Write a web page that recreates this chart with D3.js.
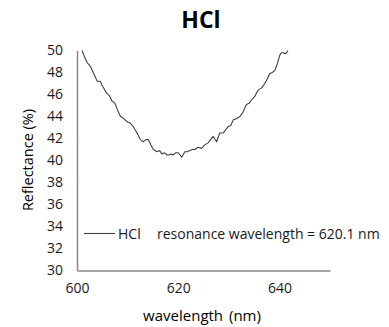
<!DOCTYPE html>
<html>
<head>
<meta charset="utf-8">
<script src="https://cdn.jsdelivr.net/npm/d3@7"></script>
<style>
  body { margin: 0; background: #fff; }
  svg { font-family: "Open Sans", sans-serif; }
</style>
</head>
<body>
<svg id="chart" width="389" height="327"></svg>
<script>
// wavelength (nm) and reflectance (%)
const wavelength = [601.0, 601.5, 602.0, 602.4, 602.7, 603.0, 603.4, 604.0, 604.6, 605.0, 605.5, 605.9,
  606.4, 606.9, 607.3, 607.6, 608.0, 608.6, 609.0, 609.5, 610.0, 610.5, 611.1, 611.6, 612.0, 612.5,
  613.1, 613.6, 614.1, 614.6, 615.1, 615.8, 616.3, 616.8, 617.3, 617.8, 618.1, 618.6, 619.0, 619.5,
  620.0, 620.4, 620.7, 621.3, 621.8, 622.3, 622.8, 623.3, 623.9, 624.6, 625.2, 625.9, 626.4, 626.9,
  627.6, 628.2, 628.9, 629.4, 629.9, 630.4, 630.9, 631.5, 632.2, 632.8, 633.5, 634.0, 634.5, 635.1,
  635.8, 636.5, 637.1, 637.6, 638.1, 638.6, 639.1, 639.6, 640.1, 640.4, 640.8, 641.1, 641.4, 641.7];
const reflectance = [50.0, 49.4, 48.9, 48.7, 48.5, 48.2, 47.8, 47.2, 47.2, 46.8, 46.4, 46.1,
  45.9, 45.4, 45.3, 45.1, 44.6, 44.0, 43.9, 43.7, 43.5, 43.4, 43.1, 42.7, 42.4, 41.9,
  41.7, 41.9, 41.9, 41.4, 41.0, 40.8, 40.9, 40.6, 40.7, 40.5, 40.5, 40.6, 40.5, 40.7,
  40.7, 40.5, 40.3, 40.8, 40.8, 40.9, 41.0, 41.0, 41.2, 41.1, 41.4, 41.6, 41.9, 42.2,
  41.7, 42.5, 42.5, 42.8, 43.1, 43.2, 43.7, 43.8, 44.0, 44.4, 45.1, 45.2, 45.5, 45.8,
  46.4, 46.6, 47.0, 47.4, 47.9, 48.0, 48.2, 48.8, 49.6, 49.8, 49.8, 49.7, 49.8, 50.0];

const xTicks = [600, 620, 640];
const yTicks = [30, 32, 34, 36, 38, 40, 42, 44, 46, 48, 50];
const seriesName = "HCl";
const note = "resonance wavelength = 620.1 nm";

const data = wavelength.map((w, i) => ({ w, r: reflectance[i] }));

const svg = d3.select("#chart");
const x = d3.scaleLinear().domain([600, 650]).range([77, 330]);
const y = d3.scaleLinear().domain([30, 50]).range([270.5, 50.5]);
const axisColor = "#868686";

// title
svg.append("text")
  .attr("x", 201).attr("y", 28)
  .attr("text-anchor", "middle")
  .attr("font-size", 23).attr("font-weight", "bold")
  .attr("fill", "#000")
  .text(seriesName);

// axes: plain lines, no tick marks
const xAxis = svg.append("g")
  .attr("transform", `translate(0,${y(30)})`)
  .call(d3.axisBottom(x).tickValues(xTicks).tickSize(0).tickPadding(13));
const yAxis = svg.append("g")
  .attr("transform", `translate(${x(600)},0)`)
  .call(d3.axisLeft(y).tickValues(yTicks).tickSize(0).tickPadding(14));

[xAxis, yAxis].forEach(g => {
  g.select(".domain").attr("stroke", axisColor).attr("stroke-width", 1.5);
  g.selectAll("text")
    .attr("font-family", "Open Sans, sans-serif")
    .attr("font-size", 14)
    .attr("fill", "#1a1a1a");
});

// axis titles
svg.append("text")
  .attr("x", 202).attr("y", 321)
  .attr("text-anchor", "middle")
  .attr("font-size", 15).attr("fill", "#000")
  .attr("word-spacing", 2)
  .text("wavelength (nm)");
svg.append("text")
  .attr("transform", "translate(33,160) rotate(-90)")
  .attr("text-anchor", "middle")
  .attr("font-size", 14.5).attr("fill", "#000")
  .text("Reflectance (%)");

// curve
const line = d3.line().x(d => x(d.w)).y(d => y(d.r));
svg.append("path")
  .datum(data)
  .attr("d", line)
  .attr("fill", "none")
  .attr("stroke", "#404040")
  .attr("stroke-width", 1.1)
  .attr("stroke-linejoin", "round");

// legend + annotation
const ly = 233.5;
svg.append("line")
  .attr("x1", 84).attr("x2", 115)
  .attr("y1", ly).attr("y2", ly)
  .attr("stroke", "#404040").attr("stroke-width", 1.1);
svg.append("text")
  .attr("x", 118).attr("y", ly + 5)
  .attr("font-size", 14).attr("fill", "#1a1a1a")
  .text(seriesName);
svg.append("text")
  .attr("x", 157).attr("y", ly + 5)
  .attr("font-size", 14).attr("fill", "#1a1a1a")
  .text(note);
</script>
</body>
</html>
